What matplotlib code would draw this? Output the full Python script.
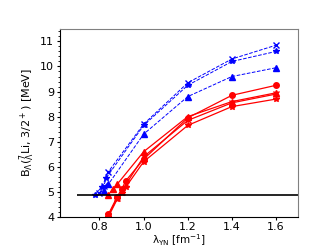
import matplotlib
matplotlib.use("Agg")
import matplotlib.pyplot as plt
from matplotlib.ticker import AutoMinorLocator

# blue (dashed) series
bx_x = [0.80, 0.82, 0.84, 1.0, 1.2, 1.4, 1.6]
bx_y = [4.95, 5.25, 5.8, 7.7, 9.35, 10.3, 10.85]
bs_x = [0.78, 0.81, 0.83, 1.0, 1.2, 1.4, 1.6]
bs_y = [4.88, 5.2, 5.55, 7.65, 9.25, 10.2, 10.6]
bt_x = [0.82, 0.84, 1.0, 1.2, 1.4, 1.6]
bt_y = [5.05, 5.3, 7.3, 8.8, 9.6, 9.95]

# red (solid) series
rt_x = [0.84, 0.86, 0.88, 1.0, 1.2, 1.4, 1.6]
rt_y = [4.88, 5.1, 5.3, 6.6, 8.0, 8.6, 8.95]
rc_x = [0.84, 0.88, 0.90, 0.92, 1.0, 1.2, 1.4, 1.6]
rc_y = [4.1, 4.8, 5.1, 5.45, 6.3, 7.95, 8.85, 9.25]
rx_x = [0.84, 0.88, 0.90, 0.92, 1.0, 1.2, 1.4, 1.6]
rx_y = [4.05, 4.75, 5.0, 5.3, 6.4, 7.85, 8.55, 8.9]
rs_x = [0.84, 0.88, 0.90, 0.92, 1.0, 1.2, 1.4, 1.6]
rs_y = [4.0, 4.7, 4.95, 5.2, 6.2, 7.65, 8.4, 8.7]

threshold = 4.88

fig = plt.figure(figsize=(3.32, 2.49), dpi=100)
ax = fig.add_axes([0.18, 0.129, 0.718, 0.755])

kw = dict(color="blue", ls="--", lw=0.7, ms=4)
ax.plot(bx_x, bx_y, marker="x", **kw)
ax.plot(bs_x, bs_y, marker="*", **kw)
ax.plot(bt_x, bt_y, marker="^", **kw)

kw = dict(color="red", ls="-", lw=0.9, ms=4)
ax.plot(rt_x, rt_y, marker="^", **kw)
ax.plot(rc_x, rc_y, marker="o", **kw)
ax.plot(rx_x, rx_y, marker="x", **kw)
ax.plot(rs_x, rs_y, marker="*", **kw)

ax.hlines(threshold, 0.7, 1.7, color="black", lw=1.2)

ax.set_xlim(0.62, 1.7)
ax.set_ylim(4, 11.5)
ax.set_xticks([0.8, 1.0, 1.2, 1.4, 1.6])
ax.set_yticks(range(4, 12))
ax.yaxis.set_minor_locator(AutoMinorLocator(5))
ax.tick_params(labelsize=8, length=2.5, pad=1.5)
ax.tick_params(which="minor", length=1.5)
for s in ax.spines.values():
    s.set_color("gray")
ax.spines["left"].set_color("black")
ax.spines["bottom"].set_color("black")

ax.set_xlabel(r"λ$_{\rm YN}$ [fm$^{-1}$]", fontsize=7.5, labelpad=0)
ax.set_ylabel(r"B$_\Lambda$($^7_\Lambda$Li, 3/2$^+$) [MeV]", fontsize=8, labelpad=2)

fig.savefig("out.png", dpi=100)
